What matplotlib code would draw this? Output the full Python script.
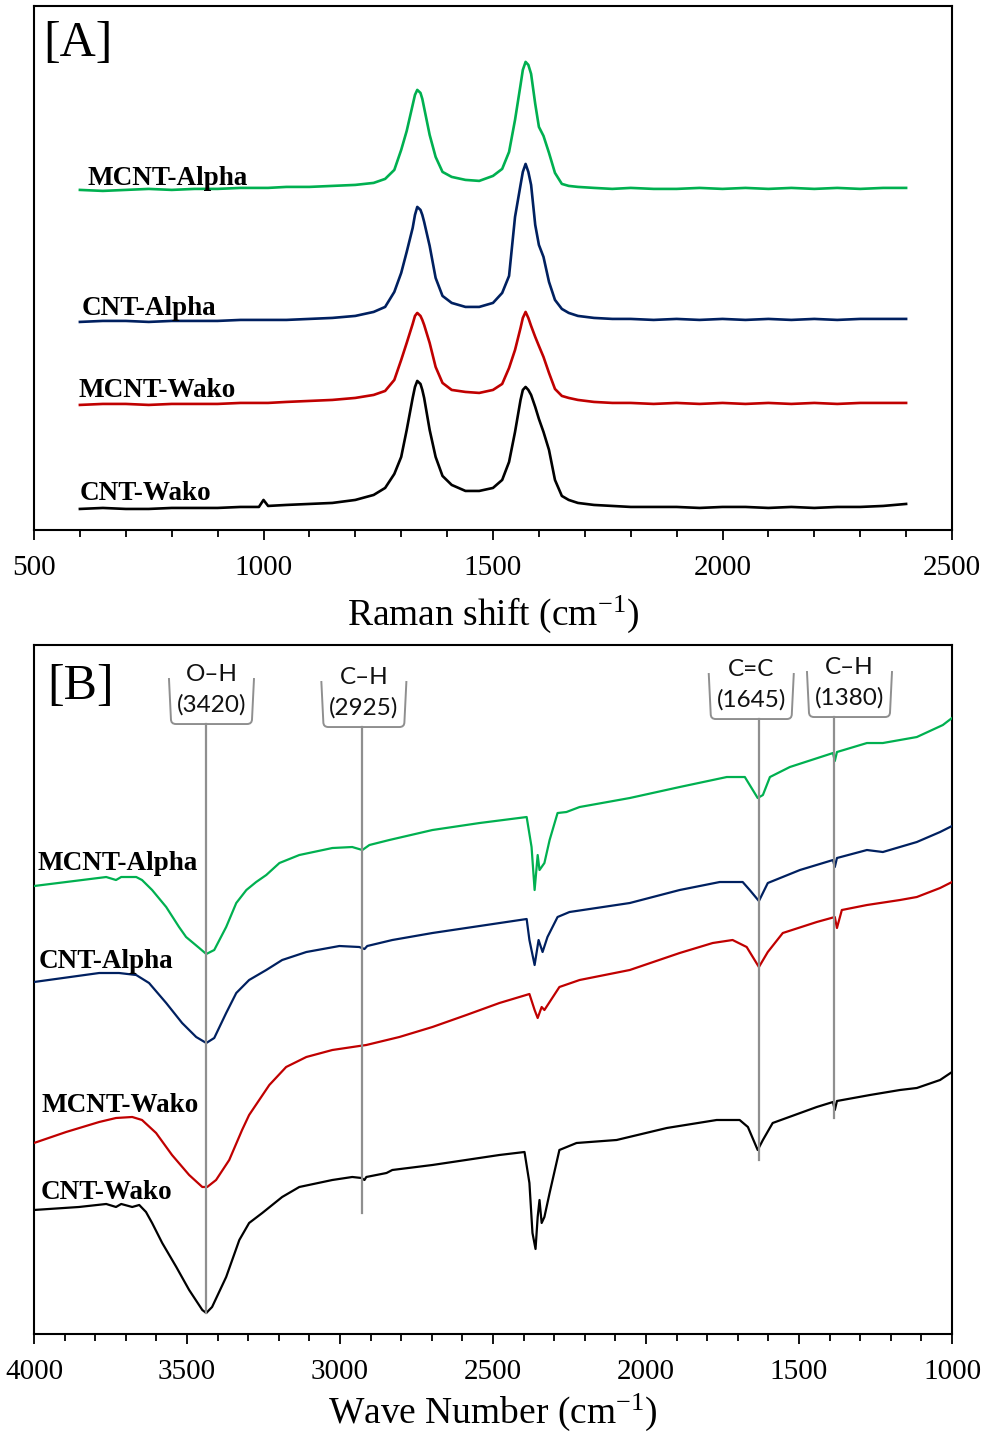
import matplotlib
matplotlib.use("Agg")
import matplotlib.pyplot as plt
from matplotlib.path import Path
from matplotlib.patches import PathPatch
from matplotlib.ticker import MultipleLocator

plt.rcParams['font.family'] = ['Liberation Serif', 'DejaVu Serif']
plt.rcParams['mathtext.fontset'] = 'custom'
plt.rcParams['mathtext.rm'] = 'Liberation Serif'
plt.rcParams['mathtext.it'] = 'Liberation Serif:italic'

series_names = ["MCNT-Alpha", "CNT-Alpha", "MCNT-Wako", "CNT-Wako"]
series_colors = ["#00b050", "#002060", "#c00000", "#000000"]

# ---- [A] Raman spectra (intensity in arbitrary units, stacked) ----
raman_shift = [600, 650, 700, 750, 800, 850, 900, 950, 990, 1000,
               1010, 1050, 1100, 1150, 1200, 1240, 1265, 1285, 1300, 1312,
               1325, 1330, 1335, 1342, 1346, 1350, 1362, 1375, 1390, 1410,
               1440, 1470, 1500, 1520, 1535, 1548, 1560, 1565, 1571, 1577,
               1583, 1592, 1600, 1610, 1622, 1635, 1650, 1665, 1685, 1720,
               1760, 1800, 1850, 1900, 1950, 2000, 2050, 2100, 2150, 2200,
               2250, 2300, 2350, 2400]

raman_mcnt_alpha = [340, 339, 340, 341, 340, 341, 341, 342, 342, 342,
                    342, 343, 343, 344, 345, 347, 351, 360, 380, 399,
                    425, 435, 440, 437, 431, 422, 395, 373, 358, 353,
                    350, 349, 354, 361, 378, 410, 445, 460, 468, 465,
                    456, 426, 403, 394, 377, 357, 346, 344, 343, 342,
                    341, 342, 341, 341, 342, 341, 342, 341, 342, 341,
                    342, 341, 342, 342]
raman_cnt_alpha = [208, 209, 209, 208, 209, 209, 209, 210, 210, 210,
                   210, 210, 211, 212, 214, 218, 223, 238, 257, 278,
                   302, 315, 323, 320, 315, 308, 284, 252, 234, 227,
                   223, 223, 227, 237, 254, 313, 345, 358, 366, 358,
                   345, 305, 285, 273, 248, 230, 221, 217, 214, 212,
                   211, 211, 210, 211, 210, 211, 210, 211, 210, 211,
                   210, 211, 211, 211]
raman_mcnt_wako = [125, 126, 126, 125, 126, 126, 126, 127, 127, 127,
                   127, 128, 129, 130, 132, 135, 139, 150, 170, 187,
                   206, 214, 217, 214, 210, 205, 187, 163, 147, 140,
                   138, 137, 140, 146, 162, 180, 202, 212, 218, 212,
                   204, 193, 184, 173, 157, 141, 134, 132, 130, 128,
                   127, 127, 126, 127, 126, 127, 126, 127, 126, 127,
                   126, 127, 127, 127]
raman_cnt_wako = [21, 22, 21, 21, 22, 22, 22, 23, 23, 30,
                  24, 25, 26, 27, 30, 35, 42, 56, 73, 100,
                  132, 143, 149, 146, 140, 132, 100, 73, 54, 45,
                  39, 39, 42, 50, 68, 98, 130, 140, 143, 140,
                  135, 123, 111, 98, 80, 50, 34, 30, 27, 25,
                  24, 23, 23, 23, 22, 23, 23, 22, 23, 22,
                  23, 23, 24, 26]

raman_label_pos = [(616, 345), (603, 215), (598, 133), (600, 30)]

# ---- [B] FTIR spectra (transmittance, arbitrary units, stacked) ----
mcnt_alpha_wn = [4000, 3895, 3764, 3732, 3715, 3666, 3647, 3614, 3568, 3526,
                 3503, 3460, 3437, 3411, 3372, 3339, 3306, 3274, 3241, 3198,
                 3133, 3025, 2960, 2927, 2904, 2839, 2698, 2544, 2390, 2374,
                 2364, 2354, 2348, 2332, 2315, 2289, 2260, 2217, 2053, 1890,
                 1736, 1677, 1651, 1635, 1618, 1595, 1530, 1389, 1383, 1376,
                 1278, 1226, 1115, 1030, 1000]
mcnt_alpha_t = [447, 451, 456, 453, 456, 456, 453, 443, 426, 406,
                396, 385, 379, 383, 406, 430, 443, 451, 458, 470,
                478, 485, 486, 483, 488, 493, 503, 510, 516, 486,
                443, 478, 463, 470, 493, 520, 521, 526, 535, 546,
                556, 556, 543, 535, 538, 556, 566, 580, 572, 581,
                590, 590, 596, 608, 615]

cnt_alpha_wn = [4000, 3787, 3722, 3666, 3624, 3568, 3516, 3470, 3437, 3411,
                3372, 3339, 3297, 3241, 3189, 3110, 3002, 2937, 2920, 2911,
                2829, 2698, 2544, 2390, 2381, 2364, 2351, 2338, 2322, 2289,
                2250, 2053, 1890, 1759, 1684, 1661, 1631, 1602, 1497, 1389,
                1383, 1376, 1278, 1226, 1115, 1039, 1000]
cnt_alpha_t = [351, 360, 360, 358, 350, 330, 310, 296, 290, 295,
               320, 340, 353, 363, 373, 381, 387, 386, 384, 387,
               393, 400, 407, 414, 393, 368, 393, 381, 396, 416,
               421, 430, 443, 451, 451, 443, 432, 450, 463, 473,
               466, 475, 483, 481, 491, 501, 507]

mcnt_wako_wn = [4000, 3895, 3787, 3732, 3679, 3647, 3601, 3549, 3493, 3450,
                3434, 3405, 3362, 3320, 3297, 3264, 3231, 3176, 3110, 3025,
                2937, 2914, 2806, 2698, 2587, 2479, 2381, 2364, 2354, 2341,
                2332, 2283, 2217, 2053, 1890, 1782, 1717, 1671, 1631, 1602,
                1553, 1442, 1383, 1376, 1360, 1278, 1170, 1115, 1039, 1000]
mcnt_wako_t = [190, 201, 211, 215, 216, 213, 200, 178, 158, 146,
               146, 153, 173, 203, 218, 233, 248, 266, 276, 283,
               287, 288, 296, 306, 318, 330, 339, 323, 315, 326,
               323, 346, 353, 363, 380, 390, 393, 386, 366, 381,
               400, 411, 416, 405, 423, 428, 433, 436, 445, 451]

cnt_wako_wn = [4000, 3853, 3764, 3732, 3715, 3679, 3656, 3634, 3614, 3581,
               3535, 3493, 3450, 3437, 3418, 3372, 3329, 3297, 3254, 3189,
               3133, 3025, 2960, 2930, 2920, 2914, 2848, 2829, 2698, 2479,
               2397, 2381, 2371, 2361, 2354, 2348, 2341, 2332, 2315, 2283,
               2227, 2096, 1932, 1769, 1694, 1667, 1635, 1618, 1586, 1442,
               1389, 1383, 1376, 1268, 1170, 1115, 1039, 1000]
cnt_wako_t = [123, 126, 129, 126, 129, 126, 128, 121, 110, 90,
              66, 43, 23, 20, 26, 56, 93, 110, 120, 136,
              146, 153, 156, 155, 153, 156, 160, 163, 168, 178,
              181, 150, 100, 84, 116, 133, 110, 116, 140, 183,
              190, 193, 205, 213, 213, 206, 183, 193, 210, 226,
              231, 223, 232, 238, 243, 245, 253, 261]

ftir_label_pos = [(3990, 463), (3984, 365), (3974, 221), (3977, 134)]

# band annotations: name, value shown, line position, line end, box centre, box top, box bottom
band_names = ["O\u2013H", "C\u2013H", "C=C", "C\u2013H"]
band_values = [3420, 2925, 1645, 1380]
band_line_wn = [3437, 2927, 1631, 1386]
band_line_end = [20, 120, 173, 215]
band_box_wn = [3420, 2922, 1656, 1335]
band_box_top = [655, 652, 660, 662]
band_box_bottom = [609, 606, 614, 616]

# ---------------------------------------------------------------
fig = plt.figure(figsize=(10, 14.35), dpi=100)
ax1 = fig.add_axes([0.034, 0.6307, 0.918, 0.3652])
ax2 = fig.add_axes([0.034, 0.0704, 0.918, 0.4801])


def style_axis(ax):
    for sp in ax.spines.values():
        sp.set_linewidth(1.5)
    ax.set_yticks([])
    ax.xaxis.set_major_locator(MultipleLocator(500))
    ax.xaxis.set_minor_locator(MultipleLocator(100))
    ax.tick_params(axis='x', which='major', direction='out', length=7,
                   width=1.3, labelsize=21, pad=11)
    ax.tick_params(axis='x', which='minor', direction='out', length=5,
                   width=1.3)


# panel A
raman_series = [raman_mcnt_alpha, raman_cnt_alpha, raman_mcnt_wako, raman_cnt_wako]
for name, color, vals, pos in zip(series_names, series_colors, raman_series, raman_label_pos):
    ax1.plot(raman_shift, vals, color=color, lw=1.9, solid_joinstyle='round')
    ax1.text(pos[0], pos[1], name, fontsize=19.5, fontweight='bold',
             ha='left', va='baseline')

ax1.set_xlim(500, 2500)
ax1.set_ylim(0, 524)
style_axis(ax1)
ax1.set_xlabel("Raman shift (cm$^{\\mathrm{-1}}$)", fontsize=27, labelpad=9)
ax1.text(0.0098, 0.905, "[A]", transform=ax1.transAxes, fontsize=36,
         ha='left', va='baseline')

# panel B
ftir_x = [mcnt_alpha_wn, cnt_alpha_wn, mcnt_wako_wn, cnt_wako_wn]
ftir_y = [mcnt_alpha_t, cnt_alpha_t, mcnt_wako_t, cnt_wako_t]
for name, color, xs, ys, pos in zip(series_names, series_colors, ftir_x, ftir_y, ftir_label_pos):
    ax2.plot(xs, ys, color=color, lw=1.6, solid_joinstyle='round', zorder=3)
    ax2.text(pos[0], pos[1], name, fontsize=19.5, fontweight='bold',
             ha='left', va='baseline')

gray = "#8f8f8f"
px_wn = 3.2715  # wavenumber per pixel on this axis
for name, val, lx, lend, bx, btop, bbot in zip(band_names, band_values, band_line_wn,
                                               band_line_end, band_box_wn,
                                               band_box_top, band_box_bottom):
    ax2.plot([lx, lx], [bbot, lend], color=gray, lw=1.6, zorder=4)
    hw = 42.5 * px_wn
    r = 5
    verts = [(bx + hw, btop), (bx + hw - 2 * px_wn, bbot + r),
             (bx + hw - 2 * px_wn, bbot), (bx + hw - 2 * px_wn - r * px_wn, bbot),
             (bx - hw + 2 * px_wn + r * px_wn, bbot),
             (bx - hw + 2 * px_wn, bbot), (bx - hw + 2 * px_wn, bbot + r),
             (bx - hw, btop)]
    codes = [Path.MOVETO, Path.LINETO, Path.CURVE3, Path.CURVE3,
             Path.LINETO, Path.CURVE3, Path.CURVE3, Path.LINETO]
    ax2.add_patch(PathPatch(Path(verts, codes), fill=False, edgecolor=gray,
                            lw=1.4, zorder=4))
    ax2.text(bx, (btop + bbot) / 2 + 11, f"{name}\n({val})", family=['Lato', 'DejaVu Sans'],
             fontsize=17.5, ha='center', va='center', linespacing=1.5,
             color='#111111', zorder=5)

ax2.set_xlim(4000, 1000)
ax2.set_ylim(-1, 688)
style_axis(ax2)
ax2.set_xlabel("Wave Number (cm$^{\\mathrm{-1}}$)", fontsize=27, labelpad=5)
ax2.text(0.014, 0.922, "[B]", transform=ax2.transAxes, fontsize=36,
         ha='left', va='baseline')

fig.savefig("out.png", dpi=100)
